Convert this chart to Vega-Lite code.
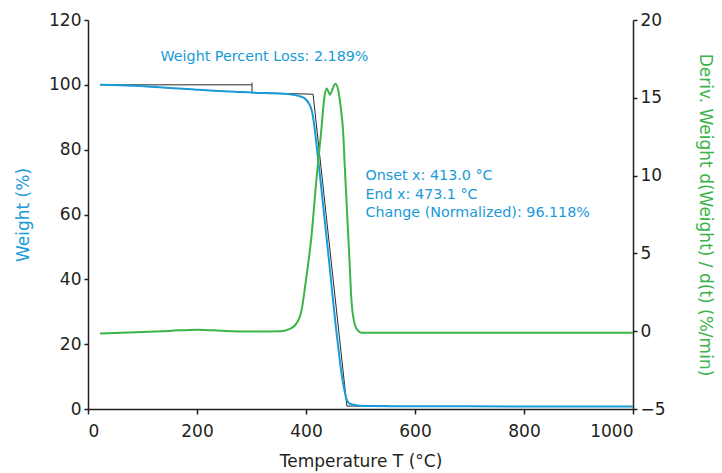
{
  "$schema": "https://vega.github.io/schema/vega-lite/v6.json",
  "autosize": "none",
  "width": 545,
  "height": 389,
  "padding": {"left": 88, "top": 20, "right": 89, "bottom": 64},
  "background": "white",
  "config": {
    "view": {"stroke": null},
    "font": "DejaVu Sans",
    "axis": {
      "domainColor": "#231f20",
      "domainWidth": 1.5,
      "tickColor": "#231f20",
      "tickWidth": 1.5,
      "tickSize": 4,
      "labelColor": "#231f20",
      "labelFont": "DejaVu Sans",
      "labelFontSize": 17,
      "titleFont": "DejaVu Sans",
      "titleFontSize": 17,
      "titleColor": "#231f20",
      "titleFontWeight": "normal",
      "grid": false
    }
  },
  "datasets": {
    "weight": [
      {"T": 22, "W": 100}, {"T": 60, "W": 99.9}, {"T": 109, "W": 99.5}, {"T": 150, "W": 99.0},
      {"T": 200, "W": 98.5}, {"T": 231, "W": 98.2}, {"T": 270, "W": 97.9}, {"T": 301, "W": 97.6},
      {"T": 340, "W": 97.4}, {"T": 367, "W": 97.2}, {"T": 386, "W": 96.6}, {"T": 397, "W": 95.9},
      {"T": 405, "W": 94.3}, {"T": 411, "W": 91.8}, {"T": 416, "W": 86.5}, {"T": 420, "W": 80.5},
      {"T": 425, "W": 73}, {"T": 431, "W": 63.5}, {"T": 437, "W": 54}, {"T": 443, "W": 44.5},
      {"T": 449, "W": 34.5}, {"T": 455, "W": 25}, {"T": 461, "W": 16.5}, {"T": 466, "W": 10},
      {"T": 470, "W": 6.2}, {"T": 474, "W": 3.2}, {"T": 479, "W": 1.8}, {"T": 487, "W": 1.3},
      {"T": 500, "W": 1.0}, {"T": 515, "W": 0.9}, {"T": 600, "W": 0.85}, {"T": 800, "W": 0.8},
      {"T": 1000, "W": 0.75}
    ],
    "deriv": [
      {"T": 22, "D": -0.15}, {"T": 100, "D": -0.05}, {"T": 150, "D": 0.02}, {"T": 200, "D": 0.1},
      {"T": 250, "D": 0.02}, {"T": 300, "D": -0.02}, {"T": 354, "D": 0.0}, {"T": 368, "D": 0.12},
      {"T": 379, "D": 0.35}, {"T": 391, "D": 1.2}, {"T": 400, "D": 3.3}, {"T": 410, "D": 6.1},
      {"T": 419, "D": 9.7}, {"T": 428, "D": 12.9}, {"T": 434, "D": 15.1}, {"T": 438, "D": 15.6},
      {"T": 441, "D": 15.4}, {"T": 444, "D": 15.2}, {"T": 449, "D": 15.6}, {"T": 454, "D": 15.9},
      {"T": 459, "D": 15.5}, {"T": 465, "D": 14.0}, {"T": 468, "D": 12.9}, {"T": 471, "D": 10.7},
      {"T": 477, "D": 6.5}, {"T": 480, "D": 4.4}, {"T": 483, "D": 2.2}, {"T": 489, "D": 0.5},
      {"T": 495, "D": 0.05}, {"T": 502, "D": -0.1}, {"T": 600, "D": -0.1}, {"T": 800, "D": -0.1},
      {"T": 1000, "D": -0.1}
    ],
    "construct": [
      {"seg": "a", "i": 1, "T": 22, "W": 100}, {"seg": "a", "i": 2, "T": 301, "W": 100},
      {"seg": "tick", "i": 1, "T": 301, "W": 100.7}, {"seg": "tick", "i": 2, "T": 301, "W": 97.3},
      {"seg": "b", "i": 1, "T": 301, "W": 97.6}, {"seg": "b", "i": 2, "T": 413, "W": 97.1},
      {"seg": "b", "i": 3, "T": 475, "W": 0.9}, {"seg": "b", "i": 4, "T": 552, "W": 0.9}
    ],
    "labels": [
      {"T": 133, "W": 108.6, "text": "Weight Percent Loss: 2.189%"},
      {"T": 509, "W": 71.8, "text": "Onset x: 413.0 °C"},
      {"T": 509, "W": 66.0, "text": "End x: 473.1 °C"},
      {"T": 509, "W": 60.4, "text": "Change (Normalized): 96.118%"}
    ]
  },
  "layer": [
    {
      "layer": [
        {
          "data": {"name": "construct"},
          "mark": {"type": "line", "stroke": "#2a2a2a", "strokeWidth": 1, "interpolate": "linear"},
          "encoding": {
            "x": {"field": "T", "type": "quantitative", "scale": {"domain": [0, 1000]}},
            "y": {"field": "W", "type": "quantitative", "scale": {"domain": [0, 120]}},
            "detail": {"field": "seg"},
            "order": {"field": "i", "type": "quantitative"}
          }
        },
        {
          "data": {"name": "weight"},
          "mark": {"type": "line", "stroke": "#1a9ad6", "strokeWidth": 2, "interpolate": "monotone"},
          "encoding": {
            "x": {
              "field": "T", "type": "quantitative",
              "scale": {"domain": [0, 1000], "nice": false},
              "axis": {"values": [0, 200, 400, 600, 800, 1000], "format": "d", "title": "Temperature T (°C)", "labelPadding": 9, "titlePadding": 14, "tickSize": 5}
            },
            "y": {
              "field": "W", "type": "quantitative",
              "scale": {"domain": [0, 120], "nice": false},
              "axis": {"values": [0, 20, 40, 60, 80, 100, 120], "title": "Weight (%)", "titleColor": "#1a9ad6", "labelPadding": 3, "titlePadding": 16}
            }
          }
        },
        {
          "data": {"name": "labels"},
          "mark": {"type": "text", "align": "left", "baseline": "middle", "font": "DejaVu Sans", "fontSize": 14.3, "color": "#1a9ad6"},
          "encoding": {
            "x": {"field": "T", "type": "quantitative"},
            "y": {"field": "W", "type": "quantitative"},
            "text": {"field": "text"}
          }
        }
      ]
    },
    {
      "data": {"name": "deriv"},
      "mark": {"type": "line", "stroke": "#3cb44a", "strokeWidth": 2, "interpolate": "monotone"},
      "encoding": {
        "x": {"field": "T", "type": "quantitative"},
        "y": {
          "field": "D", "type": "quantitative",
          "scale": {"domain": [-5, 20], "nice": false, "zero": false},
          "axis": {"orient": "right", "values": [-5, 0, 5, 10, 15, 20], "title": "Deriv. Weight d(Weight) / d(t) (%/min)", "titleColor": "#3cb44a", "labelPadding": 3, "titlePadding": 30}
        }
      }
    }
  ],
  "resolve": {"scale": {"y": "independent"}}
}
